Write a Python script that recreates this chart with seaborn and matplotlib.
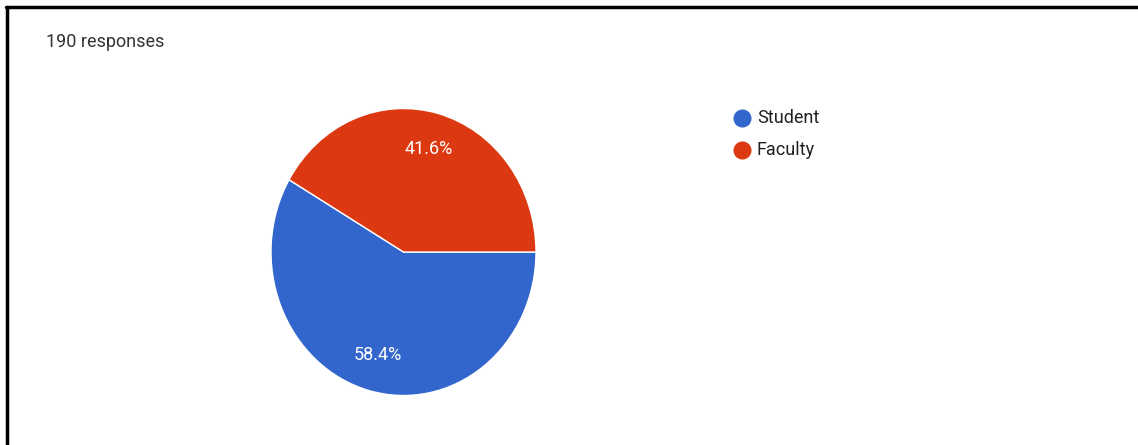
import matplotlib
matplotlib.use("Agg")
import matplotlib.pyplot as plt
import seaborn as sns
from matplotlib.lines import Line2D

categories = ["Student", "Faculty"]
shares = [58.4, 41.6]
colors = ["#3366cc", "#dc3912"]
total_label = "190 responses"

sns.set_theme(style="white")
plt.rcParams['font.family'] = ['Roboto', 'DejaVu Sans']

W, H = 1138, 445
fig = plt.figure(figsize=(W / 100, H / 100), dpi=100)
fig.patch.set_facecolor("white")

# pie axes: the screenshot is slightly stretched vertically
cx, cy, rx, ry = 403.5, 252, 132.5, 143.5
ax = fig.add_axes([(cx - rx) / W, (H - cy - ry) / H, 2 * rx / W, 2 * ry / H])
wedges, texts, autotexts = ax.pie(
    shares, colors=colors, startangle=0, counterclock=False,
    autopct='%1.1f%%', pctdistance=0.74,
    wedgeprops=dict(edgecolor="white", linewidth=1),
    textprops=dict(color="white", fontsize=13),
)
ax.set_aspect("auto")
ax.set_xlim(-1, 1)
ax.set_ylim(-1, 1)
ax.axis("off")

# legend
for i, (name, col) in enumerate(zip(categories, colors)):
    y = 1 - (118 + 32 * i) / H
    fig.add_artist(Line2D([742 / W], [y], marker="o", markersize=12,
                          color=col, linestyle="none"))
    fig.text(757 / W, y, name, fontsize=13, color="#222222", va="center", ha="left")

fig.text(46 / W, 1 - 42 / H, total_label, fontsize=13, color="#333333",
         va="center", ha="left")

# screenshot frame (top and left edges)
fig.add_artist(Line2D([6 / W, 1], [1 - 7 / H, 1 - 7 / H], color="black", linewidth=2.5))
fig.add_artist(Line2D([7 / W, 7 / W], [0, 1 - 7 / H], color="black", linewidth=2.5))

fig.savefig("out.png", dpi=100)
